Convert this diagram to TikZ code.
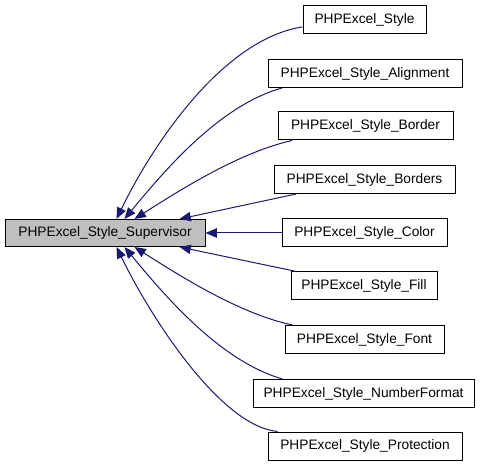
\documentclass[tikz,border=0pt]{standalone}
\usepackage{fontspec}
\setmainfont{Liberation Sans}
\usetikzlibrary{arrows.meta,calc}
\definecolor{edgeblue}{HTML}{191970}
\definecolor{supgray}{HTML}{BFBFBF}
\begin{document}
\begin{tikzpicture}[x=0.75pt,y=-0.75pt,
  box/.style={draw=black,line width=0.75pt,fill=white,inner sep=0pt,minimum height=28*0.75pt,font=\fontsize{10.3}{12}\selectfont},
  supbox/.style={box,fill=supgray},
  edge/.style={draw=edgeblue,line width=0.75pt,-{Triangle[length=8.5pt,width=7pt]}}]
\useasboundingbox (0,0) rectangle (483,467);
\node[supbox,minimum width=200*0.75pt,minimum height=27*0.75pt] (sup) at (105,233) {PHPExcel\_Style\_Supervisor};
\node[box,minimum width=123*0.75pt] (sty) at (364.5,19.5) {PHPExcel\_Style};
\node[box,minimum width=194*0.75pt] (ali) at (365,73.5) {PHPExcel\_Style\_Alignment};
\node[box,minimum width=175*0.75pt] (bor) at (365.5,126) {PHPExcel\_Style\_Border};
\node[box,minimum width=181*0.75pt] (bors) at (364.5,179.5) {PHPExcel\_Style\_Borders};
\node[box,minimum width=165*0.75pt] (col) at (364.5,233) {PHPExcel\_Style\_Color};
\node[box,minimum width=146*0.75pt] (fil) at (364,286) {PHPExcel\_Style\_Fill};
\node[box,minimum width=159*0.75pt] (fon) at (364.5,339.5) {PHPExcel\_Style\_Font};
\node[box,minimum width=221*0.75pt] (num) at (363.5,393.5) {PHPExcel\_Style\_NumberFormat};
\node[box,minimum width=194*0.75pt] (pro) at (365,446) {PHPExcel\_Style\_Protection};
% connectors
\draw[edge] ([yshift=-5.5pt]sty.west) .. controls (220,40) and (150,150) .. ([xshift=84pt]sup.north west);
\draw[edge] ([xshift=11pt]ali.south west) .. controls (220,105) and (165,170) .. ([xshift=90pt]sup.north west);
\draw[edge] ([xshift=11pt]bor.south west) .. controls (240,152) and (180,190) .. ([xshift=97.5pt]sup.north west);
\draw[edge] ([xshift=17pt]bors.south west) -- ([xshift=131.25pt]sup.north west);
\draw[edge] (col.west) -- (sup.east);
\draw[edge] ([xshift=4.5pt]fil.north west) -- ([xshift=131.25pt]sup.south west);
\draw[edge] ([xshift=6pt]fon.north west) .. controls (240,314) and (180,276) .. ([xshift=97.5pt]sup.south west);
\draw[edge] ([xshift=22.5pt]num.north west) .. controls (220,361) and (165,296) .. ([xshift=90pt]sup.south west);
\draw[edge] ([xshift=7.5pt]pro.north west) .. controls (220,426) and (150,316) .. ([xshift=84pt]sup.south west);
\end{tikzpicture}
\end{document}
